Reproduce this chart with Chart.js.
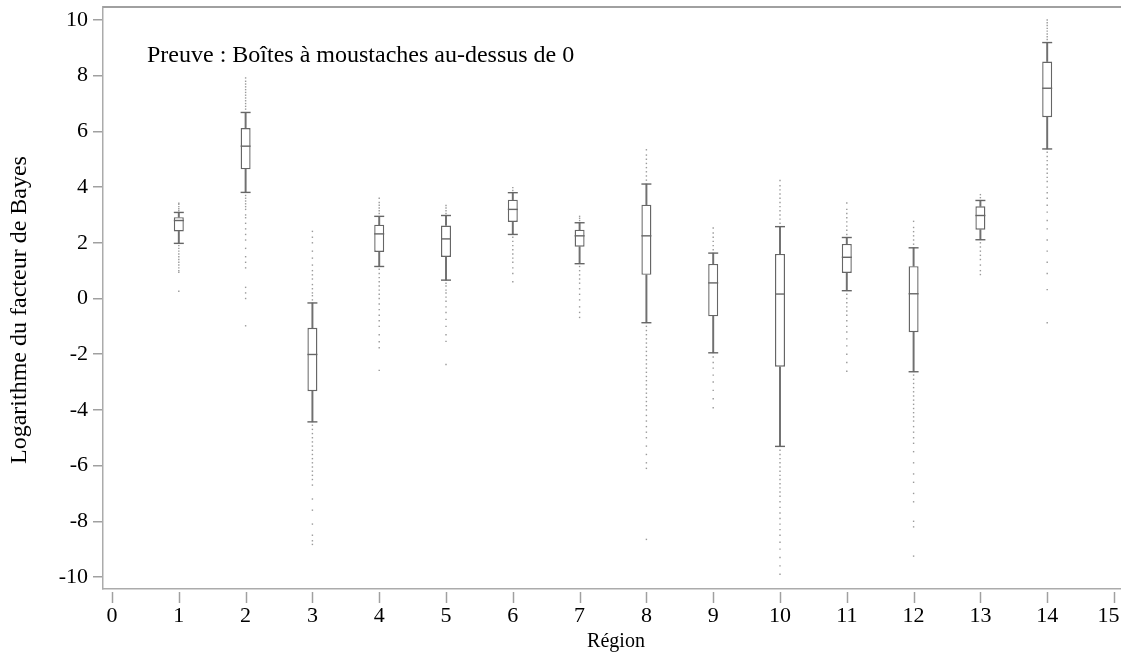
<!DOCTYPE html>
<html>
<head>
<meta charset="utf-8">
<script src="https://cdn.jsdelivr.net/npm/chart.js@4/dist/chart.umd.min.js"></script>
<style>
html,body{margin:0;padding:0;background:#fff;}
#wrap{width:1121px;height:653px;}
</style>
</head>
<body>
<div id="wrap"><canvas id="c" width="1121" height="653"></canvas></div>
<script>
// ---- data ----
const regions      = [1, 2, 3, 4, 5, 6, 7, 8, 9, 10, 11, 12, 13, 14];
const whiskerLow   = [1.98, 3.81, -4.43, 1.15, 0.66, 2.30, 1.25, -0.87, -1.95, -5.31, 0.28, -2.63, 2.11, 5.37];
const q1           = [2.41, 4.64, -3.33, 1.67, 1.49, 2.75, 1.86, 0.85, -0.64, -2.45, 0.92, -1.21, 2.47, 6.51];
const medians      = [2.80, 5.47, -2.01, 2.32, 2.14, 3.20, 2.25, 2.25, 0.56, 0.16, 1.48, 0.17, 2.98, 7.55];
const q3           = [2.92, 6.12, -1.05, 2.65, 2.62, 3.55, 2.47, 3.37, 1.24, 1.60, 1.96, 1.16, 3.31, 8.51];
const whiskerHigh  = [3.09, 6.68, -0.16, 2.95, 2.98, 3.80, 2.72, 4.11, 1.63, 2.58, 2.19, 1.82, 3.52, 9.19];
const outliers = [
  [3.15, 3.22, 3.30, 3.38, 3.42, 1.90, 1.80, 1.70, 1.60, 1.50, 1.40, 1.30, 1.20, 1.10, 1.00, 0.94, 0.26],
  [6.80, 6.90, 7.00, 7.10, 7.20, 7.30, 7.40, 7.50, 7.60, 7.70, 7.80, 7.92, 3.70, 3.60, 3.50, 3.40, 3.30, 3.20, 3.00, 2.90, 2.70, 2.50, 2.30, 2.10, 1.80, 1.50, 1.30, 1.10, 0.40, 0.20, 0.00, -0.98],
  [-0.05, 0.10, 0.20, 0.35, 0.50, 0.70, 0.85, 1.00, 1.20, 1.45, 1.70, 2.00, 2.20, 2.41, -4.55, -4.70, -4.85, -5.00, -5.15, -5.30, -5.45, -5.60, -5.75, -5.90, -6.05, -6.20, -6.35, -6.50, -6.70, -7.20, -7.60, -8.10, -8.50, -8.70, -8.83],
  [3.05, 3.15, 3.25, 3.35, 3.45, 3.60, 1.05, 0.90, 0.75, 0.60, 0.45, 0.30, 0.15, 0.00, -0.20, -0.40, -0.60, -0.80, -1.00, -1.30, -1.55, -1.77, -2.58],
  [3.05, 3.15, 3.25, 3.34, 0.55, 0.45, 0.30, 0.20, 0.05, -0.10, -0.30, -0.50, -0.75, -1.00, -1.30, -1.54, -2.37],
  [3.88, 3.98, 2.20, 2.05, 1.90, 1.75, 1.60, 1.45, 1.30, 1.10, 0.90, 0.60],
  [2.80, 2.88, 2.95, 1.15, 1.00, 0.85, 0.70, 0.55, 0.35, 0.15, -0.05, -0.30, -0.50, -0.68],
  [4.25, 4.40, 4.55, 4.70, 4.85, 5.00, 5.15, 5.34, -1.00, -1.15, -1.30, -1.45, -1.60, -1.75, -1.90, -2.05, -2.20, -2.35, -2.50, -2.65, -2.80, -2.95, -3.10, -3.25, -3.40, -3.55, -3.70, -3.85, -4.00, -4.20, -4.40, -4.60, -4.80, -5.00, -5.30, -5.60, -5.90, -6.10, -8.65],
  [1.75, 1.90, 2.05, 2.20, 2.35, 2.53, -2.10, -2.30, -2.50, -2.75, -3.00, -3.30, -3.60, -3.92],
  [2.70, 2.85, 3.00, 3.15, 3.30, 3.45, 3.60, 3.75, 3.90, 4.05, 4.24, -5.45, -5.60, -5.75, -5.90, -6.05, -6.20, -6.35, -6.50, -6.65, -6.80, -6.95, -7.10, -7.30, -7.50, -7.70, -7.90, -8.10, -8.30, -8.50, -8.75, -9.00, -9.30, -9.60, -9.90],
  [2.30, 2.45, 2.60, 2.75, 2.90, 3.05, 3.20, 3.43, 0.15, 0.00, -0.15, -0.30, -0.45, -0.60, -0.80, -1.00, -1.20, -1.45, -1.70, -2.00, -2.30, -2.61],
  [1.95, 2.10, 2.25, 2.40, 2.55, 2.77, -2.75, -2.90, -3.05, -3.20, -3.35, -3.50, -3.65, -3.80, -3.95, -4.10, -4.25, -4.40, -4.60, -4.80, -5.00, -5.20, -5.50, -5.90, -6.30, -6.60, -7.00, -7.30, -8.00, -8.20, -9.25],
  [3.62, 3.73, 2.00, 1.85, 1.70, 1.55, 1.40, 1.20, 1.00, 0.86],
  [9.30, 9.40, 9.50, 9.60, 9.70, 9.80, 9.90, 10.00, 5.25, 5.10, 4.95, 4.80, 4.65, 4.50, 4.35, 4.20, 4.00, 3.80, 3.60, 3.35, 3.10, 2.80, 2.50, 2.10, 1.70, 1.30, 0.90, 0.32, -0.87]
];
const xTickValues = [0, 1, 2, 3, 4, 5, 6, 7, 8, 9, 10, 11, 12, 13, 14, 15];
const xTickLabels = ['0', '1', '2', '3', '4', '5', '6', '7', '8', '9', '10', '11', '12', '13', '14', '15\u00a0\u00a0'];
const yTickValues = [-10, -8, -6, -4, -2, 0, 2, 4, 6, 8, 10];
const yTickLabels = ['-10', '-8', '-6', '-4', '-2', '0', '2', '4', '6', '8', '10'];
const annotationText = 'Preuve : Boîtes à moustaches au-dessus de 0';
const yTitle = 'Logarithme du facteur de Bayes';
const xTitle = 'Région';

// ---- styles ----
const FONT = '"Liberation Serif", "Times New Roman", serif';
const BOX_COLOR = '#666666';
const AXIS_COLOR = '#ababab';

const lowerWhiskers = regions.map((r, i) => ({x: r, y: [whiskerLow[i], q1[i]]}));
const upperWhiskers = regions.map((r, i) => ({x: r, y: [q3[i], whiskerHigh[i]]}));
const boxes = regions.map((r, i) => ({x: r, y: [q1[i], q3[i]]}));
const medianPts = regions.map((r, i) => ({x: r, y: medians[i]}));
const capPts = regions.flatMap((r, i) => [{x: r, y: whiskerLow[i]}, {x: r, y: whiskerHigh[i]}]);
const outlierPts = regions.flatMap((r, i) => outliers[i].map(v => ({x: r, y: v})));

function noPad(s) {
  s.paddingLeft = 0; s.paddingRight = 0; s.paddingTop = 0; s.paddingBottom = 0;
  s.getPadding = () => ({left: 0, right: 0, top: 0, bottom: 0});
}

const decor = {
  id: 'decor',
  afterDraw(chart) {
    const ctx = chart.ctx, a = chart.chartArea, xs = chart.scales.x;
    ctx.save();
    // top frame line
    ctx.strokeStyle = '#a0a0a0';
    ctx.lineWidth = 2;
    ctx.beginPath();
    ctx.moveTo(a.left, a.top);
    ctx.lineTo(a.right, a.top);
    ctx.stroke();
    // x tick marks (detached from axis)
    ctx.strokeStyle = '#a0a0a0';
    ctx.lineWidth = 1.5;
    xs.ticks.forEach(t => {
      const px = Math.round(xs.getPixelForValue(t.value)) + 0.5;
      ctx.beginPath();
      ctx.moveTo(px, a.bottom + 3);
      ctx.lineTo(px, a.bottom + 14);
      ctx.stroke();
    });
    // annotation
    ctx.fillStyle = '#000';
    ctx.font = '24px ' + FONT;
    ctx.textAlign = 'left';
    ctx.textBaseline = 'alphabetic';
    ctx.fillText(annotationText, 147, 62);
    // y title
    ctx.save();
    ctx.translate(26, 310);
    ctx.rotate(-Math.PI / 2);
    ctx.textAlign = 'center';
    ctx.font = '24px ' + FONT;
    ctx.fillText(yTitle, 0, 0);
    ctx.restore();
    // x title
    ctx.textAlign = 'center';
    ctx.font = '20px ' + FONT;
    ctx.fillText(xTitle, 616, 647);
    ctx.restore();
  }
};

new Chart(document.getElementById('c'), {
  type: 'bar',
  data: {
    datasets: [
      {type: 'scatter', data: outlierPts, order: 5, pointRadius: 1, pointHoverRadius: 1, pointStyle: 'rect',
       backgroundColor: '#9a9a9a', borderWidth: 0},
      {type: 'bar', data: lowerWhiskers, order: 4, barThickness: 1.3, grouped: false,
       backgroundColor: '#707070', borderWidth: 0},
      {type: 'bar', data: upperWhiskers, order: 4, barThickness: 1.3, grouped: false,
       backgroundColor: '#707070', borderWidth: 0},
      {type: 'bar', data: boxes, order: 3, barThickness: 10, grouped: false, inflateAmount: 0,
       backgroundColor: '#ffffff', borderColor: BOX_COLOR, borderWidth: 1.4, borderSkipped: false},
      {type: 'scatter', data: medianPts, order: 2, pointStyle: 'line', pointRadius: 5, pointHoverRadius: 5,
       borderColor: BOX_COLOR, borderWidth: 1.4},
      {type: 'scatter', data: capPts, order: 1, pointStyle: 'line', pointRadius: 5, pointHoverRadius: 5,
       borderColor: BOX_COLOR, borderWidth: 1.4}
    ]
  },
  options: {
    responsive: false,
    animation: false,
    events: [],
    layout: {padding: {top: 7, right: 0, bottom: 0, left: 0}, autoPadding: false},
    plugins: {legend: {display: false}, tooltip: {enabled: false}, title: {display: false}},
    scales: {
      x: {
        type: 'linear',
        offset: false,
        min: -0.135,
        max: 15.105,
        afterBuildTicks: s => { s.ticks = xTickValues.map(v => ({value: v})); },
        afterFit: s => { s.height = 64; noPad(s); },
        grid: {display: true, drawOnChartArea: false, drawTicks: false},
        border: {display: true, color: AXIS_COLOR, width: 1.5},
        ticks: {
          color: '#000', font: {family: FONT, size: 22}, padding: 14, maxRotation: 0, autoSkip: false,
          callback: v => xTickLabels[xTickValues.indexOf(v)]
        },
        title: {display: false}
      },
      y: {
        type: 'linear',
        min: -10.431,
        max: 10.467,
        afterBuildTicks: s => { s.ticks = yTickValues.map(v => ({value: v})); },
        afterFit: s => { s.width = 103; noPad(s); },
        grid: {display: true, drawOnChartArea: false, drawTicks: true, tickLength: 10, color: '#a0a0a0', lineWidth: 1.5},
        border: {display: true, color: AXIS_COLOR, width: 1.5},
        ticks: {
          color: '#000', font: {family: FONT, size: 22}, padding: 5, autoSkip: false,
          callback: v => yTickLabels[yTickValues.indexOf(v)]
        },
        title: {display: false}
      }
    }
  },
  plugins: [decor]
});
</script>
</body>
</html>
